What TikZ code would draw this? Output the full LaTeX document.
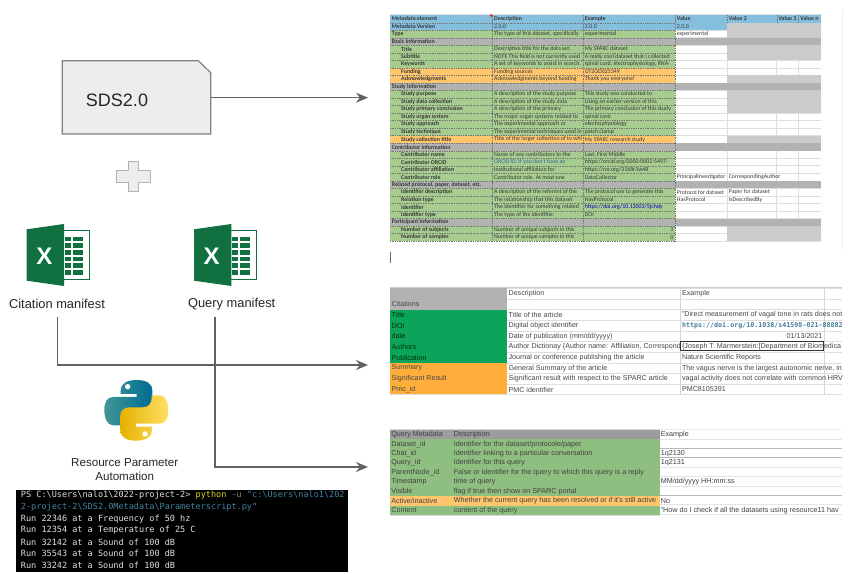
\documentclass[tikz,border=0pt]{standalone}
\usepackage{fontspec}
\setmainfont{Liberation Sans}
\newfontfamily\calib{Carlito}
\newfontfamily\termfont{DejaVu Sans Mono}
\usetikzlibrary{arrows.meta}
\definecolor{hdrblue}{HTML}{84BFDD}
\definecolor{cellgreen}{HTML}{A6CC8F}
\definecolor{cellorange}{HTML}{FFC66D}
\definecolor{secgrey}{HTML}{B2B2B2}
\definecolor{lgrey}{HTML}{CBCBCB}
\definecolor{citegreen}{HTML}{0BA45A}
\definecolor{citeorange}{HTML}{FFAE3C}
\definecolor{qgreen}{HTML}{8FBF80}
\definecolor{qhead}{HTML}{9C9C9C}
\definecolor{xlgreen}{HTML}{107040}
\newcount\nodeid
\newcommand\Tx[6]{%
  \begin{scope}\clip (#1,#3) rectangle (#2,#4);
  \global\advance\nodeid by 1
  \node[#5,anchor=west] (tx\the\nodeid) at (#1,{(#3+#4)/2}) {#6};
  \end{scope}}
\newcommand\Ta[5]{\Tx{#1}{#2}{15.2+7.53*#3-1}{15.2+7.53*#3+8.53}{#4}{#5}}
\newcommand\Fa[5]{\fill[#5] (#1,{15.2+7.53*#3}) rectangle (#2,{15.2+7.53*(#4+1)});}
\newcommand\Tb[5]{\Tx{#1}{#2}{288.3+10.65*#3}{288.3+10.65*#3+10.65}{#4}{#5}}
\newcommand\Tc[5]{\Tx{#1}{#2}{430+9.45*#3}{430+9.45*#3+9.45}{#4}{#5}}
\def\tA{390}\def\tB{492.3}\def\tC{583}\def\tD{675}\def\tE{727}\def\tF{776.7}\def\tG{798.5}\def\tH{820.5}
\newcommand\xlicon[1]{%
  \begin{scope}[shift={(#1,0)}]
  \draw[xlgreen,line width=0.7pt,fill=white] (60,230) rectangle (89,279.3);
  \foreach \r in {0,...,5}{
    \fill[xlgreen] (65,{236.7+6.7*\r}) rectangle (70.7,{241.4+6.7*\r});
    \fill[xlgreen] (72.7,{236.7+6.7*\r}) rectangle (82.7,{241.4+6.7*\r});}
  \fill[xlgreen] (26.7,229.3) -- (64,224) -- (64,286) -- (26.7,280.7) -- cycle;
  \end{scope}}
\newcommand\pyhalf[2]{%
  \path[left color=#1,right color=#2] (212,62) .. controls (212,38) and (235,30) .. (260,30) .. controls (285,30) and (307,38) .. (307,62) -- (307,105) .. controls (307,122) and (295,130) .. (280,130) -- (240,130) .. controls (222,130) and (213,142) .. (213,158) -- (213,166) -- (190,166) .. controls (172,166) and (163,145) .. (163,120) .. controls (163,95) and (172,81) .. (190,81) -- (260,81) -- (260,72) -- (212,72) -- cycle;
  \fill[white] (233,50) circle (8);}
\tikzset{
  conn/.style={draw=black!62,line width=1pt,-{Stealth[length=9pt,width=7.5pt]}},
  t1/.style={font=\calib\fontsize{4.4pt}{5pt}\selectfont,text=black!78,inner sep=0pt,xshift=1.2pt},
  t1b/.style={t1,font=\calib\bfseries\fontsize{4.4pt}{5pt}\selectfont},
  t1i/.style={t1b,xshift=7pt},
  t2/.style={font=\fontsize{5.35pt}{6pt}\selectfont,text=black!72,inner sep=0pt,xshift=1pt},
  t3/.style={font=\fontsize{5.4pt}{6pt}\selectfont,text=black!75,inner sep=0pt,xshift=0.8pt},
  lab/.style={font=\fontsize{9.65pt}{11pt}\selectfont,text=black!85,inner sep=0pt},
  labsmall/.style={lab,font=\fontsize{8.7pt}{11pt}\selectfont},
  term/.style={font=\termfont\fontsize{6.4pt}{7pt}\selectfont,anchor=west,inner sep=0pt,text=black!12},
  dash1/.style={densely dotted,line width=0.3pt,black!55},
  grid1/.style={line width=0.5pt,black!13},
}
\begin{document}
\begin{tikzpicture}[x=0.75pt,y=-0.75pt]
\useasboundingbox (0,0) rectangle (851,574);
\fill[white] (0,0) rectangle (851,574);

% ---- SDS2.0 document
\draw[draw=black!50,fill=black!7,line width=0.9pt] (62.3,60.7) -- (198.3,60.7) -- (210.7,72.7) -- (210.7,134) -- (62.3,134) -- cycle;
\node[font=\fontsize{13.5pt}{15pt}\selectfont,text=black!85,inner sep=0pt] (sds) at (117,100.7) {SDS2.0};
\coordinate (sdsout) at (210.7,97.7);
\coordinate (t1in) at (368,97.7);
\draw[conn] (sdsout) -- (t1in);

% ---- plus
\draw[draw=black!30,fill=black!7,line width=0.7pt] (128.3,161.3) -- (138.3,161.3) -- (138.3,170.7) -- (150,170.7) -- (150,182.3) -- (138.3,182.3) -- (138.3,191.7) -- (128.3,191.7) -- (128.3,182.3) -- (116.3,182.3) -- (116.3,170.7) -- (128.3,170.7) -- cycle;

% ---- excel icons
\xlicon{0}
\xlicon{167.3}
\node[font=\bfseries\fontsize{18pt}{20pt}\selectfont,text=white,inner sep=0pt] (xa) at (44.3,256) {X};
\node[font=\bfseries\fontsize{18pt}{20pt}\selectfont,text=white,inner sep=0pt] (xb) at (211.6,256) {X};
\node[lab] (citlabel) at (57,303.7) {Citation manifest};
\node[lab] (qlabel) at (231.7,303.7) {Query manifest};

% ---- connectors
\coordinate (citstart) at (57.5,317);
\coordinate (qstart) at (215,317);
\coordinate (t2in) at (368,365);
\coordinate (t3in) at (368,467);
\draw[conn] (citstart) |- (t2in);
\draw[conn] (qstart) |- (t3in);

% ---- python logo
\begin{scope}[shift={(50,370)},xscale=0.3333,yscale=0.3333]
  \pyhalf{black!0!blue!0!cyan!45!black!75!white}{cyan!50!black!85!blue}
  \begin{scope}[rotate around={180:(259,121)}]
    \pyhalf{yellow!55!orange!90!black}{yellow!60!orange!60!white}
  \end{scope}
\end{scope}
\node[labsmall] (rpa) at (124.7,462.7) {Resource Parameter};
\node[labsmall] (rpb) at (124.7,476) {Automation};

% ---- terminal
\fill[black] (15.7,490) rectangle (348,572);
\node[term] (l1) at (20.7,495) {PS C:\textbackslash Users\textbackslash nalo1\textbackslash 2022-project-2> \textcolor{yellow!85!black}{python} \textcolor{black!50}{-u} \textcolor{cyan!60!black}{"c:\textbackslash Users\textbackslash nalo1\textbackslash 202}};
\node[term,text=cyan!60!black] (l2) at (20.7,507) {2-project-2\textbackslash SDS2.0Metadata\textbackslash Parameterscript.py"};
\node[term] (l3) at (20.7,518.7) {Run 22346 at a Frequency of 50 hz};
\node[term] (l4) at (20.7,530) {Run 12354 at a Temperature of 25 C};
\node[term] (l5) at (20.7,542) {Run 32142 at a Sound of 100 dB};
\node[term] (l6) at (20.7,553.3) {Run 35543 at a Sound of 100 dB};
\node[term] (l7) at (20.7,565.7) {Run 33242 at a Sound of 100 dB};

% ---- table 1 fills
\Fa{\tA}{\tH}{0}{0}{hdrblue}
\Fa{\tA}{\tE}{1}{1}{hdrblue}
\Fa{\tA}{\tD}{2}{29}{cellgreen}
\foreach \r in {7,8,16}{\Fa{\tA}{\tD}{\r}{\r}{cellorange}}
% grid of the white cells
\foreach \r in {1,...,30}{
  \draw[grid1] (\tD,{15.2+7.53*\r}) -- (\tH,{15.2+7.53*\r});}
\draw[grid1] (\tA,14.6) -- (\tH,14.6);
\foreach \x in {\tE,\tF,\tG}{\draw[grid1] (\x,15.2) -- (\x,241);}
% merged grey cells
\Fa{\tA}{\tH}{0}{0}{hdrblue}
\Fa{\tA}{\tE}{1}{1}{hdrblue}
\foreach \r in {1,2,4,5,8,10,11,12,16,28,29}{\Fa{\tE}{\tH}{\r}{\r}{lgrey}}
\foreach \r in {3,9,17,22,27}{\Fa{\tA}{\tH}{\r}{\r}{secgrey}}
% dotted borders
\foreach \r in {1,...,30}{
  \draw[dash1] (\tA,{15.2+7.53*\r}) -- (\tD,{15.2+7.53*\r});}
\draw[dash1] (\tB,15.2) -- (\tB,241); \draw[dash1] (\tC,15.2) -- (\tC,241); \draw[dash1] (\tD,15.2) -- (\tD,241);
\foreach \x in {\tE,\tF,\tG}{\draw[dash1] (\x,15.2) -- (\x,22.7);}
\fill[red] (489.5,14.6) -- (492.3,14.6) -- (492.3,17.4) -- cycle;
% table 1 text
\Ta{\tA}{\tB}{0}{t1b}{Metadata element}
\Ta{\tA}{\tB}{1}{t1b}{Metadata Version}
\Ta{\tA}{\tB}{2}{t1b}{Type}
\Ta{\tA}{\tB}{3}{t1b}{Basic Information}
\Ta{\tA}{\tB}{4}{t1i}{Title}
\Ta{\tA}{\tB}{5}{t1i}{Subtitle}
\Ta{\tA}{\tB}{6}{t1i}{Keywords}
\Ta{\tA}{\tB}{7}{t1i}{Funding}
\Ta{\tA}{\tB}{8}{t1i}{Acknowledgments}
\Ta{\tA}{\tB}{9}{t1b}{Study Information}
\Ta{\tA}{\tB}{10}{t1i}{Study purpose}
\Ta{\tA}{\tB}{11}{t1i}{Study data collection}
\Ta{\tA}{\tB}{12}{t1i}{Study primary conclusion}
\Ta{\tA}{\tB}{13}{t1i}{Study organ system}
\Ta{\tA}{\tB}{14}{t1i}{Study approach}
\Ta{\tA}{\tB}{15}{t1i}{Study technique}
\Ta{\tA}{\tB}{16}{t1i}{Study collection title}
\Ta{\tA}{\tB}{17}{t1b}{Contributor information}
\Ta{\tA}{\tB}{18}{t1i}{Contributor name}
\Ta{\tA}{\tB}{19}{t1i}{Contributor ORCID}
\Ta{\tA}{\tB}{20}{t1i}{Contributor affiliation}
\Ta{\tA}{\tB}{21}{t1i}{Contributor role}
\Ta{\tA}{\tB}{22}{t1b}{Related protocol, paper, dataset, etc.}
\Ta{\tA}{\tB}{23}{t1i}{Identifier description}
\Ta{\tA}{\tB}{24}{t1i}{Relation type}
\Ta{\tA}{\tB}{25}{t1i}{Identifier}
\Ta{\tA}{\tB}{26}{t1i}{Identifier type}
\Ta{\tA}{\tB}{27}{t1b}{Participant information}
\Ta{\tA}{\tB}{28}{t1i}{Number of subjects}
\Ta{\tA}{\tB}{29}{t1i}{Number of samples}
\Ta{\tB}{\tC}{0}{t1b}{Description}
\Ta{\tB}{\tC}{1}{t1}{2.0.0}
\Ta{\tB}{\tC}{2}{t1}{The type of this dataset, specifically}
\Ta{\tB}{\tC}{4}{t1}{Descriptive title for the data set.}
\Ta{\tB}{\tC}{5}{t1}{NOTE This field is not currently used}
\Ta{\tB}{\tC}{6}{t1}{A set of keywords to assist in search.}
\Ta{\tB}{\tC}{7}{t1}{Funding sources}
\Ta{\tB}{\tC}{8}{t1}{Acknowledgments beyond funding}
\Ta{\tB}{\tC}{10}{t1}{A description of the study purpose}
\Ta{\tB}{\tC}{11}{t1}{A description of the study data}
\Ta{\tB}{\tC}{12}{t1}{A description of the primary}
\Ta{\tB}{\tC}{13}{t1}{The major organ systems related to}
\Ta{\tB}{\tC}{14}{t1}{The experimental approach or}
\Ta{\tB}{\tC}{15}{t1}{The experimental techniques used in}
\Ta{\tB}{\tC}{16}{t1}{Title of the larger collection of to whi}
\Ta{\tB}{\tC}{18}{t1}{Name of any contributors to the}
\Ta{\tB}{\tC}{19}{t1,text=cyan!50!blue!80!black}{ORCID ID. If you don't have an}
\Ta{\tB}{\tC}{20}{t1}{Institutional affiliation for}
\Ta{\tB}{\tC}{21}{t1}{Contributor role. At most one}
\Ta{\tB}{\tC}{23}{t1}{A description of the referent of the}
\Ta{\tB}{\tC}{24}{t1}{The relationship that this dataset}
\Ta{\tB}{\tC}{25}{t1}{The identifier for something related}
\Ta{\tB}{\tC}{26}{t1}{The type of the identifier.}
\Ta{\tB}{\tC}{28}{t1}{Number of unique subjects in this}
\Ta{\tB}{\tC}{29}{t1}{Number of unique samples in this}
\Ta{\tC}{\tD}{0}{t1b}{Example}
\Ta{\tC}{\tD}{1}{t1}{2.0.0}
\Ta{\tC}{\tD}{2}{t1}{experimental}
\Ta{\tC}{\tD}{4}{t1}{My SPARC dataset}
\Ta{\tC}{\tD}{5}{t1}{A really cool dataset that I collected}
\Ta{\tC}{\tD}{6}{t1}{spinal cord, electrophysiology, RNA-}
\Ta{\tC}{\tD}{7}{t1}{OT2OD025349}
\Ta{\tC}{\tD}{8}{t1}{Thank you everyone!}
\Ta{\tC}{\tD}{10}{t1}{This study was conducted to}
\Ta{\tC}{\tD}{11}{t1}{Using an earlier version of this}
\Ta{\tC}{\tD}{12}{t1}{The primary conclusion of this study}
\Ta{\tC}{\tD}{13}{t1}{spinal cord}
\Ta{\tC}{\tD}{14}{t1}{electrophysiology}
\Ta{\tC}{\tD}{15}{t1}{patch clamp}
\Ta{\tC}{\tD}{16}{t1}{My SPARC research study}
\Ta{\tC}{\tD}{18}{t1}{Last, First Middle}
\Ta{\tC}{\tD}{19}{t1}{https://orcid.org/0000-0002-5497-}
\Ta{\tC}{\tD}{20}{t1}{https://ror.org/3168r3w48}
\Ta{\tC}{\tD}{21}{t1}{DataCollector}
\Ta{\tC}{\tD}{23}{t1}{The protocol use to generate this}
\Ta{\tC}{\tD}{24}{t1}{HasProtocol}
\Ta{\tC}{\tD}{25}{t1,text=blue!75!black}{https://doi.org/10.13003/5jchdy}
\Ta{\tC}{\tD}{26}{t1}{DOI}
\node[t1,anchor=east,xshift=-2.2pt] (tn3) at (\tD,{15.2+7.53*28.5}) {3};
\node[t1,anchor=east,xshift=-2.2pt] (tn0) at (\tD,{15.2+7.53*29.5}) {0};
\Ta{\tD}{\tE}{0}{t1b}{Value}
\Ta{\tD}{\tE}{1}{t1}{2.0.0}
\Ta{\tD}{\tE}{2}{t1}{experimental}
\Ta{\tD}{\tE}{21}{t1}{PrincipalInvestigator}
\Ta{\tD}{\tE}{23}{t1}{Protocol for dataset}
\Ta{\tD}{\tE}{24}{t1}{HasProtocol}
\Ta{\tE}{\tF}{0}{t1b}{Value 2}
\Ta{\tF}{\tG}{0}{t1b}{Value 3}
\Ta{\tG}{\tH}{0}{t1b}{Value n}
\Ta{\tE}{\tG}{21}{t1}{CorrespondingAuthor}
\Ta{\tE}{\tF}{23}{t1}{Paper for dataset}
\Ta{\tE}{\tF}{24}{t1}{IsDescribedBy}
\draw[black!6,line width=0.4pt] (842.7,10) -- (842.7,250);
% text caret
\draw[black!60,line width=0.6pt] (390,252) -- (390,263);

% ---- table 2
\fill[secgrey] (390,288.3) rectangle (507,309.6);
\fill[citegreen] (390,309.6) rectangle (507,362.85);
\fill[citeorange] (390,362.85) rectangle (507,394.8);
\foreach \r in {0,...,9}{\draw[grid1] (507,{288.3+10.65*\r}) -- (842,{288.3+10.65*\r});}
\draw[line width=0.9pt,black!12] (390,394.9) -- (842,394.9);
\draw[line width=0.7pt,black!20] (390,287.6) -- (842,287.6);
\foreach \x in {680.5,824}{\draw[line width=0.6pt,black!17] (\x,287.6) -- (\x,394.8);}
\Tb{390}{507}{1}{t2}{Citations}
\Tb{390}{507}{2}{t2,text=black!80!green}{Title}
\Tb{390}{507}{3}{t2,text=black!80!green}{DOI}
\Tb{390}{507}{4}{t2,text=black!80!green}{date}
\Tb{390}{507}{5}{t2,text=black!80!green}{Authors}
\Tb{390}{507}{6}{t2,text=black!80!green}{Publication}
\Tb{390}{507}{7}{t2}{Summary}
\Tb{390}{507}{8}{t2}{Significant Result}
\Tb{390}{507}{9}{t2}{Pmc\_id}
\Tb{507}{680.5}{0}{t2}{Description}
\Tb{507}{680.5}{2}{t2}{Title of the article}
\Tb{507}{680.5}{3}{t2}{Digital object identifier}
\Tb{507}{680.5}{4}{t2}{Date of publication (mm/dd/yyyy)}
\Tb{507}{680.5}{5}{t2}{Author Dictionay \{Author name: Affiliation, Correspond}
\Tb{507}{680.5}{6}{t2}{Journal or conference publishing the article}
\Tb{507}{680.5}{7}{t2}{General Summary of the article}
\Tb{507}{680.5}{8}{t2}{Significant result with respect to the SPARC article}
\Tb{507}{680.5}{9}{t2}{PMC identifier}
\Tb{680.5}{842}{0}{t2}{Example}
\Tb{680.5}{842}{2}{t2}{"Direct measurement of vagal tone in rats does not}
\Tb{680.5}{842}{3}{t2,font=\termfont\bfseries\fontsize{5pt}{6pt}\selectfont,text=cyan!55!black}{https://doi.org/10.1038/s41598-021-88882}
\node[t2,anchor=east,xshift=-2pt] (tdate) at (824,{288.3+10.65*4.5}) {01/13/2021};
\Tb{680.5}{842}{5}{t2}{\{Joseph T. Marmerstein:[Department of Biomedica}
\Tb{680.5}{842}{6}{t2}{Nature Scientific Reports}
\Tb{680.5}{842}{7}{t2}{The vagus nerve is the largest autonomic nerve, in}
\Tb{680.5}{842}{8}{t2}{vagal activity does not correlate with common HRV}
\Tb{680.5}{842}{9}{t2}{PMC8105391}
\draw[black!80,line width=0.9pt] (680.5,341.3) rectangle (823.5,350.7);

% ---- table 3
\fill[qhead] (390,430) rectangle (659.5,439.45);
\fill[qgreen] (390,439.45) rectangle (659.5,514.7);
\fill[cellorange] (390,496.1) rectangle (659.5,505.5);
\foreach \yy/\sh in {439.3/10,448.3/28,457.3/28,467.3/10,476.7/10,486/10,495/28,504/10,514.5/10,429.3/8}{
  \draw[line width=0.6pt,black!\sh] (659.5,\yy) -- (842,\yy);}
\draw[line width=0.7pt,black!15] (390,429.5) -- (659.5,429.5);
\draw[line width=0.7pt,black!15] (390,515) -- (659.5,515);
\Tc{390}{453}{0}{t3}{Query Metadata}
\Tc{390}{453}{1}{t3}{Dataset\_id}
\Tc{390}{453}{2}{t3}{Chat\_id}
\Tc{390}{453}{3}{t3}{Query\_id}
\Tc{390}{453}{4}{t3}{ParentNode\_id}
\Tc{390}{453}{5}{t3}{Timestamp}
\Tc{390}{453}{6}{t3}{Visible}
\Tc{390}{453}{7}{t3}{Active/inactive}
\Tc{390}{453}{8}{t3}{Content}
\Tc{452.5}{660}{0}{t3}{Description}
\Tc{452.5}{660}{1}{t3}{Identifier for the dataset/protocole/paper}
\Tc{452.5}{660}{2}{t3}{Identifier linking to a particular conversation}
\Tc{452.5}{660}{3}{t3}{Identifier for this query}
\Tc{452.5}{660}{4}{t3}{False or identifier for the query to which this query is a reply}
\Tc{452.5}{660}{5}{t3}{time of query}
\Tc{452.5}{660}{6}{t3}{flag if true then show on SPARC portal}
\Tc{452.5}{660}{7}{t3}{Whether the current query has been resolved or if it's still active}
\Tc{452.5}{660}{8}{t3}{content of the query}
\Tc{659.5}{842}{0}{t3}{Example}
\Tc{659.5}{842}{2}{t3}{1q2130}
\Tc{659.5}{842}{3}{t3}{1q2131}
\Tc{659.5}{842}{5}{t3}{MM/dd/yyyy HH:mm:ss}
\Tc{659.5}{842}{7}{t3}{No}
\Tc{659.5}{842}{8}{t3}{"How do I check if all the datasets using resource11 hav}
\end{tikzpicture}
\end{document}
